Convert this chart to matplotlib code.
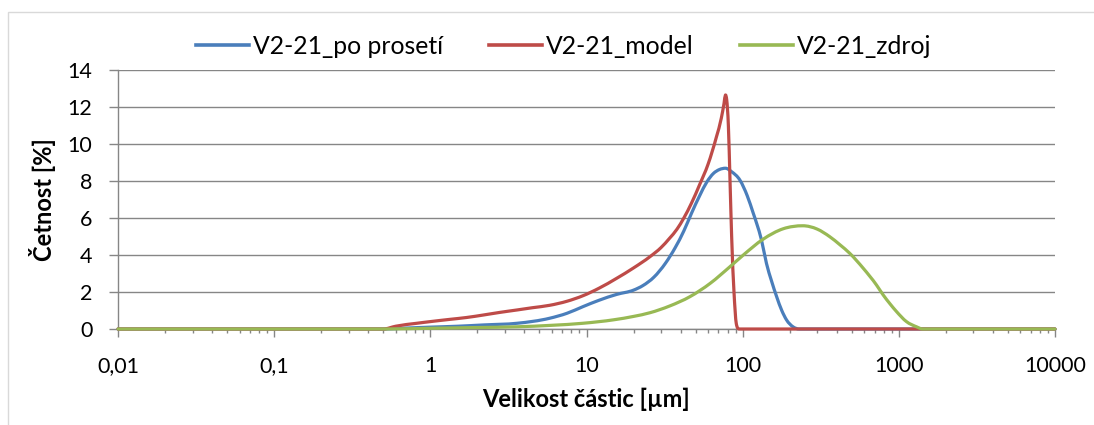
import matplotlib
matplotlib.use("Agg")
import numpy as np
import matplotlib.pyplot as plt
from matplotlib.patches import Rectangle, PathPatch
from matplotlib.path import Path
from matplotlib.lines import Line2D
from matplotlib.ticker import FixedLocator, FuncFormatter, NullFormatter

# Particle size distribution data (size in µm, frequency in %)
size_sieved = [0.01, 0.5, 0.7, 1.0, 1.5, 2.2, 3.6, 5.8, 7.5, 9.5, 12, 15.6, 20, 23, 27, 32, 37,
               42, 47, 53, 59, 65, 71, 77.6, 85, 96, 107, 117, 123, 132, 142, 153, 165, 178,
               191, 210, 230, 10000]
freq_sieved = [0, 0, 0.05, 0.1, 0.15, 0.22, 0.31, 0.58, 0.85, 1.21, 1.55, 1.87, 2.1, 2.35, 2.8,
               3.55, 4.4, 5.3, 6.25, 7.2, 7.95, 8.41, 8.62, 8.69, 8.5, 8.05, 7.2, 6.25, 5.7, 4.81,
               3.55, 2.6, 1.75, 1.0, 0.49, 0.12, 0, 0]

size_model = [0.01, 0.5, 0.6, 0.82, 1.0, 1.33, 1.7, 2.2, 2.8, 3.6, 4.5, 5.8, 7.5, 9.5, 12, 15.6,
              20, 25.5, 30, 34, 38, 42, 47, 53, 60, 68, 73, 76, 77.6, 79, 81, 83, 85, 88, 91,
              95, 10000]
freq_model = [0, 0, 0.15, 0.31, 0.4, 0.52, 0.62, 0.76, 0.9, 1.03, 1.15, 1.28, 1.5, 1.8, 2.2,
              2.74, 3.3, 3.91, 4.4, 4.9, 5.4, 6.0, 6.8, 7.8, 8.9, 10.4, 11.4, 12.2, 12.65, 12.4,
              11.0, 8.0, 5.0, 2.0, 0.3, 0, 0]

size_source = [0.01, 0.5, 1, 2, 3.6, 6, 9.5, 15, 20, 25.5, 34, 46, 62, 83, 101, 135, 182, 243,
               300, 361, 420, 485, 592, 719, 794, 880, 967, 1119, 1297, 1420, 10000]
freq_source = [0, 0, 0.04, 0.08, 0.12, 0.2, 0.31, 0.5, 0.68, 0.88, 1.24, 1.75, 2.47, 3.37, 4.0,
               4.85, 5.42, 5.58, 5.4, 4.99, 4.55, 4.09, 3.28, 2.38, 1.84, 1.35, 0.94, 0.40,
               0.12, 0, 0]

series_names = ["V2-21_po prosetí", "V2-21_model", "V2-21_zdroj"]
series_colors = ["#4A7EBB", "#BE4B48", "#98B954"]

x_ticks = [0.01, 0.1, 1, 10, 100, 1000, 10000]
x_tick_labels = ["0,01", "0,1", "1", "10", "100", "1000", "10000"]
y_ticks = [0, 2, 4, 6, 8, 10, 12, 14]

x_label = "Velikost částic [µm]"
y_label = "Četnost [%]"

plt.rcParams["font.family"] = ["Lato", "DejaVu Sans"]


def smooth_path(xs, ys):
    """Smoothed cubic path through the points, built in log-x space and handed
    back as Bezier control points in data units (no overshoot at extremes)."""
    u = np.log10(np.asarray(xs, float))
    y = np.asarray(ys, float)
    h = np.diff(u)
    d = np.diff(y) / h
    m = np.zeros_like(y)
    m[0], m[-1] = d[0], d[-1]
    for i in range(1, len(y) - 1):
        if d[i - 1] * d[i] <= 0:
            m[i] = 0.0
        else:
            s = (d[i - 1] * h[i] + d[i] * h[i - 1]) / (h[i - 1] + h[i])
            lim = 3 * min(abs(d[i - 1]), abs(d[i]))
            m[i] = np.sign(s) * min(abs(s), lim)
    verts = [(u[0], y[0])]
    codes = [Path.MOVETO]
    for i in range(len(y) - 1):
        verts += [(u[i] + h[i] / 3, y[i] + m[i] * h[i] / 3),
                  (u[i + 1] - h[i] / 3, y[i + 1] - m[i + 1] * h[i] / 3),
                  (u[i + 1], y[i + 1])]
        codes += [Path.CURVE4] * 3
    return Path([(10 ** a, b) for a, b in verts], codes)


W, H = 1094, 425
fig = plt.figure(figsize=(W / 100, H / 100), dpi=100)

# outer chart border
fig.patches.append(Rectangle((8 / W, -0.05), 1.2, 1 - 12 / H + 0.05,
                             transform=fig.transFigure, fill=False,
                             edgecolor="#D9D9D9", linewidth=1.0))

ax = fig.add_axes([118 / W, 1 - 329 / H, (1055 - 118) / W, (329 - 70) / H])

ax.set_xscale("log")
ax.set_xlim(x_ticks[0], x_ticks[-1])
ax.set_ylim(y_ticks[0], y_ticks[-1])

handles = []
for xs, ys, name, col in zip([size_sieved, size_model, size_source],
                             [freq_sieved, freq_model, freq_source],
                             series_names, series_colors):
    patch = PathPatch(smooth_path(xs, ys), fill=False, edgecolor=col, linewidth=2.3,
                      capstyle="round", joinstyle="round", clip_on=False, zorder=3)
    ax.add_patch(patch)
    handles.append(Line2D([], [], color=col, linewidth=2.6, label=name))

# major ticks at each decade, minor ticks at 2..9 within each decade
minor_ticks = [m * t for t in x_ticks[:-1] for m in range(2, 10)]
ax.xaxis.set_major_locator(FixedLocator(x_ticks))
ax.xaxis.set_minor_locator(FixedLocator(minor_ticks))
ax.xaxis.set_minor_formatter(NullFormatter())
ax.set_xticklabels(x_tick_labels)
ax.yaxis.set_major_locator(FixedLocator(y_ticks))
ax.yaxis.set_major_formatter(FuncFormatter(lambda v, p: "%d" % v))

ax.grid(axis="y", color="#868686", linewidth=1.0)
ax.set_axisbelow(True)
for s in ["top", "right"]:
    ax.spines[s].set_visible(False)
for s in ["left", "bottom"]:
    ax.spines[s].set_color("#868686")
    ax.spines[s].set_linewidth(1.0)

ax.tick_params(axis="y", which="major", length=6.5, width=1.0, color="#868686",
               labelsize=15.5, pad=12)
ax.tick_params(axis="x", which="major", length=5.5, width=1.0, color="#868686",
               labelsize=15.5, pad=14)
ax.tick_params(axis="x", which="minor", length=3, width=1.0, color="#868686")

ax.set_xlabel(x_label, fontsize=17, fontweight="bold", labelpad=8)
ax.set_ylabel(y_label, fontsize=17, fontweight="bold", labelpad=8)

ax.legend(handles=handles, loc="center",
          bbox_to_anchor=((563.5 - 118) / 937, 1 + (70 - 46) / 259), ncol=3,
          frameon=False, fontsize=17.8, handlelength=2.14, handletextpad=0.16,
          columnspacing=1.87, borderaxespad=0)

fig.savefig("out.png", dpi=100)
